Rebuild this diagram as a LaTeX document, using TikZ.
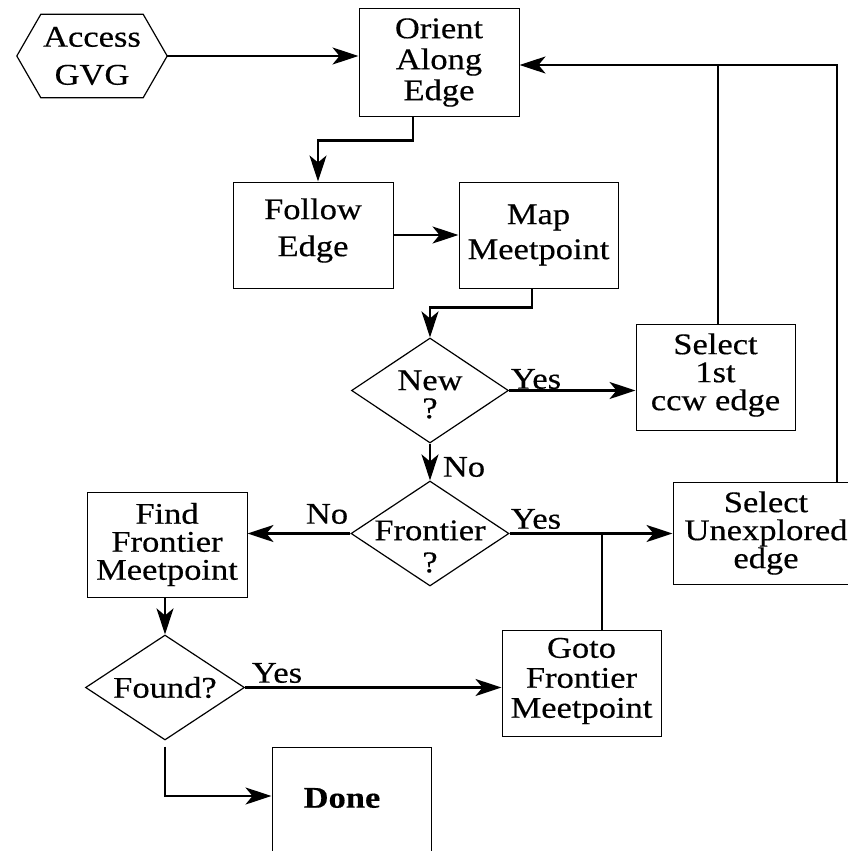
\documentclass[tikz,border=0pt]{standalone}
\usepackage{fontspec}
\setmainfont{Liberation Serif}[FakeStretch=1.15, FakeBold=0.4]
\usetikzlibrary{arrows.meta,shapes.geometric,calc}
\begin{document}
\begin{tikzpicture}[x=1pt,y=-1pt,
  box/.style={draw, line width=1pt, minimum width=160pt, minimum height=106pt, inner sep=0pt},
  dia/.style={draw, diamond, line width=1.2pt, minimum width=158pt, minimum height=105pt, inner sep=0pt},
  fs/.style={font=\fontsize{30}{#1}\selectfont},
  txt/.style={align=center, inner sep=0pt},
  conn/.style={line width=2.3pt},
  arr/.style={conn, -{Stealth[length=26pt,width=17pt,inset=7pt]}},
  lab/.style={inner sep=0pt, font=\fontsize{30}{30}\selectfont}
]
\useasboundingbox (0,0) rectangle (848,851);
\clip (0,0) rectangle (848,851);

% nodes
\node[minimum width=150pt, minimum height=83pt, inner sep=0pt,
      label={[txt,fs=38]center:Access\\GVG}] (access) at (92,56) {};
\draw[line width=1.2pt] (access.west) -- ([xshift=24pt]access.north west)
  -- ([xshift=-24pt]access.north east) -- (access.east)
  -- ([xshift=-24pt]access.south east) -- ([xshift=24pt]access.south west) -- cycle;

\node[box, minimum height=107pt, label={[txt,fs=31]center:Orient\\Along\\Edge}] (orient) at (439,62.5) {};
\node[box, label={[txt,fs=37,yshift=4.5pt]center:Follow\\Edge}] (follow) at (313,235) {};
\node[box, minimum width=159pt, label={[txt,fs=35]center:Map\\Meetpoint}] (map) at (538.5,235) {};
\node[dia, minimum width=157pt, label={[txt,fs=28,yshift=-4pt]center:New\\?}] (new) at (430,390.5) {};
\node[box, minimum width=159pt, label={[txt,fs=28,yshift=2pt]center:Select\\1st\\ccw edge}] (sel1) at (715.5,377) {};
\node[dia, label={[txt,fs=32,yshift=-13pt]center:Frontier\\?}] (frontier) at (430,533.5) {};
\node[box, minimum width=190pt, minimum height=102pt, label={[txt,fs=28,xshift=-2pt]center:Select\\Unexplored\\edge}] (unexp) at (768,533) {};
\node[box, minimum height=105pt, label={[txt,fs=28]center:Find\\Frontier\\Meetpoint}] (find) at (167,544.5) {};
\node[dia, minimum width=159pt, label={[txt,fs=30]center:Found?}] (found) at (165,687.5) {};
\node[box, minimum width=159pt, label={[txt,fs=30,yshift=2pt]center:Goto\\Frontier\\Meetpoint}] (goto) at (581.5,683) {};
\node[box, minimum width=159pt, minimum height=120pt, label={[txt,fs=30,xshift=-9.5pt,yshift=9pt]center:\bfseries Done}] (done) at (351.5,807) {};

% connectors
\coordinate (tr) at (837,65);
\coordinate (s1top) at (718,65);
\coordinate (dj) at (162,796);
\draw[arr] (access.east) -- (orient.west |- access.east);
\draw[arr] (unexp.north -| tr) -- (tr) -- (orient.east |- tr);
\draw[conn] (sel1.north -| s1top) -- (s1top);
\draw[arr] ([xshift=-26pt]orient.south) -- ++(0,24) -| ([xshift=5pt]follow.north);
\draw[arr] (follow.east) -- (map.west);
\draw[arr] ([xshift=-6.5pt]map.south) -- ++(0,19) -| (new.north);
\draw[arr] (new.east) -- (sel1.west |- new.east);
\draw[arr] (new.south) -- (frontier.north);
\draw[arr] (frontier.west) -- (find.east |- frontier.west);
\draw[arr] (frontier.east) -- (unexp.west |- frontier.east);
\draw[conn] ([xshift=20.5pt]goto.north) -- ([xshift=20.5pt]goto.north |- frontier.east);
\draw[arr] (find.south -| found.north) -- (found.north);
\draw[arr] (found.east) -- (goto.west |- found.east);
\draw[arr] ([yshift=-6pt]found.south) |- (done.west |- dj);

% branch labels
\node[lab] (yes1) at (536,379) {Yes};
\node[lab] (no1) at (464,467) {No};
\node[lab] (no2) at (327,514) {No};
\node[lab] (yes2) at (536,519) {Yes};
\node[lab] (yes3) at (277,673) {Yes};
\end{tikzpicture}
\end{document}
